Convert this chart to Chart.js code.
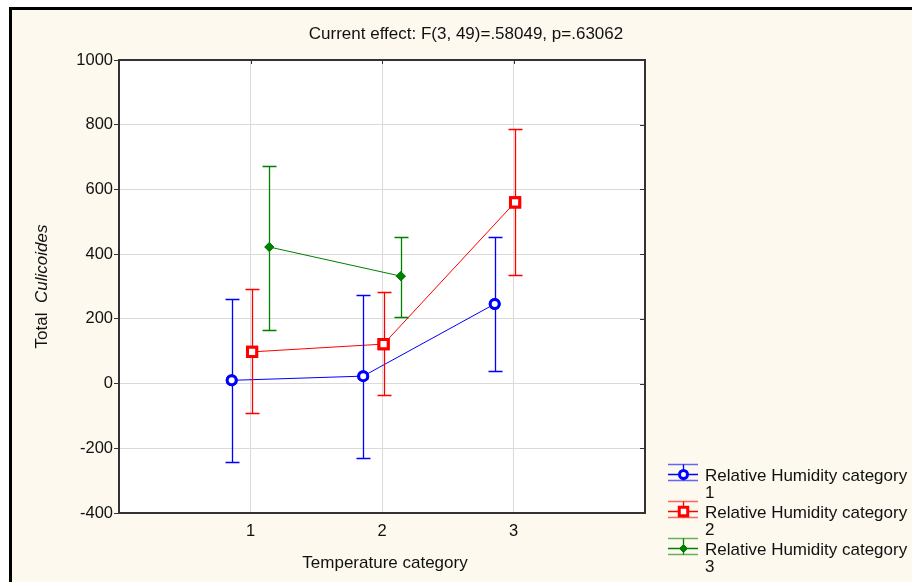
<!DOCTYPE html>
<html>
<head>
<meta charset="utf-8">
<script src="https://cdn.jsdelivr.net/npm/chart.js@4.4.1/dist/chart.umd.min.js"></script>
<style>body{margin:0;background:#fff}</style>
</head>
<body>
<canvas id="chartCanvas" width="912" height="582"></canvas>
<script>
const categories = [1, 2, 3];
const yTicks = [-400, -200, 0, 200, 400, 600, 800, 1000];

// Relative Humidity category 1
const rh1Mean  = [10, 23, 246];
const rh1Upper = [262, 275, 453];
const rh1Lower = [-242, -230, 40];
// Relative Humidity category 2
const rh2Mean  = [98, 122, 560];
const rh2Upper = [291, 283, 788];
const rh2Lower = [-91, -35, 336];
// Relative Humidity category 3 (no value for temperature 3)
const rh3Mean  = [422, 332];
const rh3Upper = [672, 452];
const rh3Lower = [167, 207];

const seriesColors = ['#0000ff', '#ff0000', '#008000'];
const FONT = '"Liberation Sans", Arial, sans-serif';

function pts(mean, shift) {
    return mean.map((v, i) => ({ x: categories[i] + shift, y: v }));
}

const ctx = document.getElementById('chartCanvas').getContext('2d');

const background = {
    id: 'background',
    beforeDraw: (chart) => {
        const c = chart.ctx, a = chart.chartArea;
        c.save();
        c.fillStyle = '#fff';
        c.fillRect(0, 0, chart.width, chart.height);
        c.fillStyle = '#fdf9ef';
        c.fillRect(12, 10, chart.width - 12, chart.height - 10);
        c.fillStyle = '#000';
        c.fillRect(9, 7, chart.width - 9, 3);
        c.fillRect(9, 7, 3, chart.height - 7);
        c.fillStyle = '#fff';
        c.fillRect(a.left, a.top, a.right - a.left, a.bottom - a.top);
        c.restore();
    }
};

// vertical error bars (mean +/- interval), markers redrawn on top
const errorBars = {
    id: 'errorBars',
    afterDatasetsDraw: (chart) => {
        const c = chart.ctx, ys = chart.scales.y;
        const bounds = [[rh1Upper, rh1Lower], [rh2Upper, rh2Lower], [rh3Upper, rh3Lower]];
        bounds.forEach((b, di) => {
            const meta = chart.getDatasetMeta(di);
            meta.data.forEach((el, i) => {
                const x = Math.round(el.x) + 0.5;
                const yu = Math.round(ys.getPixelForValue(b[0][i])) + 0.5;
                const yl = Math.round(ys.getPixelForValue(b[1][i])) + 0.5;
                c.save();
                c.lineWidth = 1.3;
                c.strokeStyle = seriesColors[di];
                c.beginPath();
                c.moveTo(x, yu); c.lineTo(x, yl);
                c.moveTo(x - 7, yu); c.lineTo(x + 7, yu);
                c.moveTo(x - 7, yl); c.lineTo(x + 7, yl);
                c.stroke();
                c.restore();
                el.draw(c, chart.chartArea);
            });
        });
    }
};

const decorations = {
    id: 'decorations',
    afterDraw: (chart) => {
        const c = chart.ctx, a = chart.chartArea;
        const xs = chart.scales.x, ys = chart.scales.y;
        c.save();
        // frame
        c.strokeStyle = '#333';
        c.lineWidth = 2;
        c.strokeRect(a.left, a.top, a.right - a.left, a.bottom - a.top);
        // inner ticks on top and right
        c.lineWidth = 1;
        c.beginPath();
        categories.forEach(v => {
            const x = Math.round(xs.getPixelForValue(v)) + 0.5;
            c.moveTo(x, a.top); c.lineTo(x, a.top + 4);
        });
        yTicks.forEach(v => {
            const y = Math.round(ys.getPixelForValue(v)) + 0.5;
            c.moveTo(a.right, y); c.lineTo(a.right - 5, y);
        });
        c.stroke();

        c.fillStyle = '#111';
        c.font = '17px ' + FONT;
        c.textAlign = 'center';
        c.textBaseline = 'alphabetic';
        c.fillText('Current effect: F(3, 49)=.58049, p=.63062', 466, 39);
        c.fillText('Temperature category', (a.left + a.right) / 2 + 3, 568);

        // y axis title with italic genus name
        c.save();
        c.translate(47, (a.top + a.bottom) / 2);
        c.rotate(-Math.PI / 2);
        c.textAlign = 'left';
        c.font = '17px ' + FONT;
        const t1 = 'Total  ';
        const w1 = c.measureText(t1).width;
        c.font = 'italic 17px ' + FONT;
        const w2 = c.measureText('Culicoides').width;
        const sx = -(w1 + w2) / 2;
        c.font = '17px ' + FONT;
        c.fillText(t1, sx, 0);
        c.font = 'italic 17px ' + FONT;
        c.fillText('Culicoides', sx + w1, 0);
        c.restore();

        // legend
        chart.data.datasets.forEach((ds, i) => {
            const col = seriesColors[i];
            const y = 474 + i * 37;
            const x0 = 668, x1 = 698, xm = 683;
            c.strokeStyle = col;
            c.lineWidth = 1.3;
            c.globalAlpha = 0.6;
            c.beginPath();
            c.moveTo(x0, y - 9.5); c.lineTo(x1, y - 9.5);
            c.moveTo(x0, y + 6.5); c.lineTo(x1, y + 6.5);
            c.stroke();
            c.globalAlpha = 1;
            c.beginPath();
            c.moveTo(x0, y + 0.5); c.lineTo(x1, y + 0.5);
            c.moveTo(xm + 0.5, y - 9.5); c.lineTo(xm + 0.5, y + 6.5);
            c.stroke();
            c.fillStyle = ds.pointBackgroundColor;
            c.strokeStyle = col;
            c.lineWidth = ds.pointBorderWidth;
            Chart.helpers.drawPoint(c, {
                pointStyle: ds.pointStyle,
                radius: ds.pointRadius - 0.5,
                borderWidth: ds.pointBorderWidth,
                rotation: 0
            }, xm + 0.5, y + 0.5);
            c.lineWidth = 1;
            c.fillStyle = '#111';
            c.textAlign = 'left';
            c.font = '17px ' + FONT;
            c.fillText(ds.label, 705, y + 7);
            c.fillText(String(i + 1), 705, y + 24);
        });
        c.restore();
    }
};

let chart = new Chart(ctx, {
    type: 'scatter',
    data: {
        datasets: [
            {
                label: 'Relative Humidity category',
                data: pts(rh1Mean, -0.143),
                showLine: true,
                borderColor: seriesColors[0],
                borderWidth: 1,
                pointStyle: 'circle',
                pointRadius: 4.5,
                pointBorderWidth: 3,
                pointBackgroundColor: '#ffffff',
                pointBorderColor: seriesColors[0]
            },
            {
                label: 'Relative Humidity category',
                data: pts(rh2Mean, 0.012),
                showLine: true,
                borderColor: seriesColors[1],
                borderWidth: 1,
                pointStyle: 'rect',
                pointRadius: 6.5,
                pointBorderWidth: 3,
                pointBackgroundColor: '#ffffff',
                pointBorderColor: seriesColors[1]
            },
            {
                label: 'Relative Humidity category',
                data: pts(rh3Mean, 0.143),
                showLine: true,
                borderColor: seriesColors[2],
                borderWidth: 1,
                pointStyle: 'rectRot',
                pointRadius: 4.5,
                pointBorderWidth: 1,
                pointBackgroundColor: seriesColors[2],
                pointBorderColor: seriesColors[2]
            }
        ]
    },
    options: {
        responsive: false,
        animation: false,
        layout: { padding: { left: 12, right: 267, top: 60, bottom: 0 } },
        plugins: {
            legend: { display: false },
            tooltip: { enabled: false }
        },
        scales: {
            x: {
                type: 'linear',
                min: 0,
                max: 4,
                afterBuildTicks: (s) => { s.ticks = categories.map(v => ({ value: v })); },
                afterFit: (s) => { s.height = 69; },
                ticks: {
                    color: '#111',
                    font: { family: FONT, size: 16.5 },
                    padding: 9,
                    callback: (v) => String(v)
                },
                grid: { color: '#dadada', drawTicks: false },
                border: { display: false }
            },
            y: {
                min: -400,
                max: 1000,
                afterBuildTicks: (s) => { s.ticks = yTicks.map(v => ({ value: v })); },
                afterFit: (s) => { s.width = 107; },
                ticks: {
                    color: '#111',
                    font: { family: FONT, size: 16.5 },
                    padding: 1,
                    callback: (v) => String(v)
                },
                grid: { color: '#dadada', tickColor: '#333', tickLength: 5 },
                border: { display: false }
            }
        }
    },
    plugins: [background, errorBars, decorations]
});
</script>
</body>
</html>
